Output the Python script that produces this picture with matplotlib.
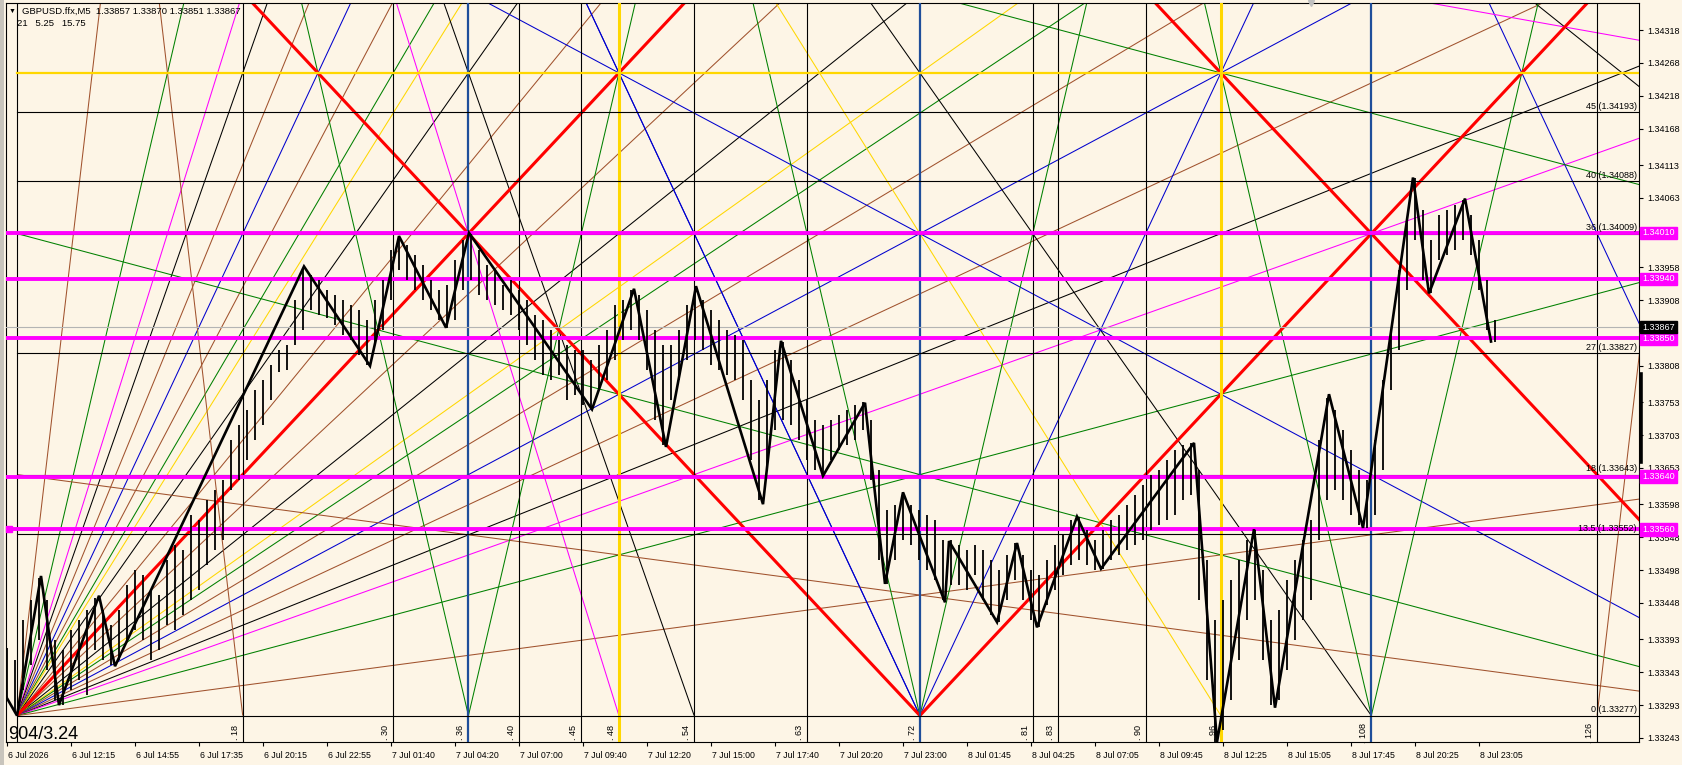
import numpy as np
import matplotlib
matplotlib.use("Agg")
import matplotlib.pyplot as plt
from matplotlib.patches import Rectangle

# ------------------------------------------------------------------ data
bar_index = list(range(0, 745, 4))
bar_high = [
    1.33380, 1.33361, 1.33422, 1.33453, 1.33486, 1.33453, 1.33392, 1.33377, 1.33407, 1.33422,
    1.33437, 1.33456, 1.33437, 1.33415, 1.33437, 1.33475, 1.33498, 1.33490, 1.33468, 1.33460,
    1.33513, 1.33536, 1.33528, 1.33582, 1.33574, 1.33604, 1.33620, 1.33635, 1.33695, 1.33718,
    1.33741, 1.33771, 1.33786, 1.33809, 1.33832, 1.33840, 1.33908, 1.33957, 1.33946, 1.33938,
    1.33923, 1.33916, 1.33908, 1.33900, 1.33893, 1.33878, 1.33908, 1.33938, 1.33984, 1.34004,
    1.33992, 1.33976, 1.33961, 1.33938, 1.33923, 1.33931, 1.33969, 1.33999, 1.34008, 1.33984,
    1.33961, 1.33954, 1.33931, 1.33938, 1.33923, 1.33908, 1.33885, 1.33878, 1.33862, 1.33847,
    1.33840, 1.33832, 1.33832, 1.33817, 1.33840, 1.33862, 1.33900, 1.33908, 1.33923, 1.33916,
    1.33893, 1.33862, 1.33840, 1.33840, 1.33862, 1.33900, 1.33928, 1.33908, 1.33893, 1.33878,
    1.33862, 1.33855, 1.33847, 1.33786, 1.33756, 1.33786, 1.33832, 1.33844, 1.33817, 1.33786,
    1.33756, 1.33726, 1.33718, 1.33726, 1.33733, 1.33741, 1.33749, 1.33753, 1.33726, 1.33650,
    1.33589, 1.33597, 1.33617, 1.33597, 1.33589, 1.33582, 1.33574, 1.33544, 1.33544, 1.33536,
    1.33528, 1.33536, 1.33528, 1.33513, 1.33498, 1.33521, 1.33539, 1.33521, 1.33498, 1.33490,
    1.33513, 1.33536, 1.33551, 1.33574, 1.33579, 1.33559, 1.33544, 1.33559, 1.33574, 1.33582,
    1.33597, 1.33612, 1.33627, 1.33642, 1.33650, 1.33665, 1.33680, 1.33688, 1.33691, 1.33650,
    1.33513, 1.33422, 1.33453, 1.33483, 1.33513, 1.33544, 1.33559, 1.33498, 1.33422, 1.33437,
    1.33483, 1.33513, 1.33544, 1.33574, 1.33695, 1.33759, 1.33741, 1.33711, 1.33680, 1.33650,
    1.33635, 1.33695, 1.33786, 1.33862, 1.33954, 1.34030, 1.34093, 1.34045, 1.33999, 1.34037,
    1.34045, 1.34052, 1.34060, 1.34037, 1.33999, 1.33938, 1.33878,
]
bar_low = [
    1.33305, 1.33282, 1.33316, 1.33354, 1.33392, 1.33346, 1.33301, 1.33293, 1.33316, 1.33331,
    1.33308, 1.33377, 1.33361, 1.33354, 1.33361, 1.33392, 1.33407, 1.33392, 1.33361, 1.33377,
    1.33415, 1.33407, 1.33430, 1.33453, 1.33468, 1.33506, 1.33528, 1.33544, 1.33620, 1.33635,
    1.33665, 1.33695, 1.33718, 1.33756, 1.33799, 1.33802, 1.33840, 1.33862, 1.33893, 1.33885,
    1.33881, 1.33870, 1.33855, 1.33847, 1.33825, 1.33809, 1.33840, 1.33862, 1.33908, 1.33954,
    1.33938, 1.33923, 1.33908, 1.33893, 1.33878, 1.33866, 1.33878, 1.33923, 1.33938, 1.33916,
    1.33908, 1.33900, 1.33893, 1.33885, 1.33862, 1.33840, 1.33817, 1.33794, 1.33786, 1.33794,
    1.33756, 1.33764, 1.33749, 1.33744, 1.33771, 1.33786, 1.33817, 1.33847, 1.33862, 1.33847,
    1.33802, 1.33726, 1.33688, 1.33756, 1.33786, 1.33817, 1.33847, 1.33832, 1.33809, 1.33802,
    1.33794, 1.33786, 1.33756, 1.33665, 1.33604, 1.33650, 1.33711, 1.33726, 1.33718, 1.33695,
    1.33665, 1.33650, 1.33641, 1.33665, 1.33680, 1.33688, 1.33695, 1.33711, 1.33635, 1.33513,
    1.33477, 1.33513, 1.33544, 1.33536, 1.33513, 1.33498, 1.33483, 1.33453, 1.33475, 1.33475,
    1.33468, 1.33490, 1.33453, 1.33430, 1.33419, 1.33453, 1.33483, 1.33453, 1.33422, 1.33412,
    1.33445, 1.33468, 1.33490, 1.33506, 1.33513, 1.33506, 1.33498, 1.33500, 1.33513, 1.33521,
    1.33528, 1.33536, 1.33544, 1.33559, 1.33566, 1.33574, 1.33582, 1.33604, 1.33612, 1.33453,
    1.33331, 1.33237, 1.33255, 1.33301, 1.33361, 1.33422, 1.33453, 1.33361, 1.33293, 1.33301,
    1.33346, 1.33392, 1.33422, 1.33453, 1.33544, 1.33604, 1.33620, 1.33604, 1.33582, 1.33566,
    1.33562, 1.33582, 1.33650, 1.33771, 1.33832, 1.33923, 1.33999, 1.33938, 1.33919, 1.33969,
    1.33976, 1.33984, 1.33999, 1.33976, 1.33923, 1.33862, 1.33844,
]
zz_bar = [-0.5, 5, 17, 26, 46, 54, 148.5, 181.5, 196, 219.5, 231, 292.5, 313.5, 329.5, 344.5,
          378, 387, 408, 429, 439, 448, 469, 471, 495, 505, 515, 535, 547, 593.5, 605,
          623.5, 634, 661, 678, 703, 711, 729, 742]
zz_price = [1.33306, 1.33277, 1.33489, 1.33293, 1.33459, 1.33352, 1.33959, 1.33808, 1.34005,
            1.33866, 1.34010, 1.33742, 1.33925, 1.33685, 1.33929, 1.33598, 1.33846, 1.33641,
            1.33752, 1.33477, 1.33616, 1.33449, 1.33542, 1.33419, 1.33539, 1.33411, 1.33579,
            1.33500, 1.33691, 1.33237, 1.33560, 1.33289, 1.33765, 1.33562, 1.34094, 1.33918,
            1.34062, 1.33845]

time_tick_bars = list(range(0, 737, 32))
time_labels = ["6 Jul 2026", "6 Jul 12:15", "6 Jul 14:55", "6 Jul 17:35", "6 Jul 20:15",
               "6 Jul 22:55", "7 Jul 01:40", "7 Jul 04:20", "7 Jul 07:00", "7 Jul 09:40",
               "7 Jul 12:20", "7 Jul 15:00", "7 Jul 17:40", "7 Jul 20:20", "7 Jul 23:00",
               "8 Jul 01:45", "8 Jul 04:25", "8 Jul 07:05", "8 Jul 09:45", "8 Jul 12:25",
               "8 Jul 15:05", "8 Jul 17:45", "8 Jul 20:25", "8 Jul 23:05"]
price_ticks = [1.34318, 1.34268, 1.34218, 1.34168, 1.34113, 1.34063, 1.33958, 1.33908,
               1.33808, 1.33753, 1.33703, 1.33653, 1.33598, 1.33548, 1.33498, 1.33448,
               1.33393, 1.33343, 1.33293, 1.33243]
sr_levels = [1.34010, 1.33940, 1.33850, 1.33640, 1.33560]
last_price = 1.33867
header_line1 = "GBPUSD.ffx,M5  1.33857 1.33870 1.33851 1.33867"
header_line2 = "21   5.25   15.75"
corner_text = "904/3.24"

# Gann square settings
gann_origin_bar = 5
gann_bars_per_unit = 6.27
gann_base_price = 1.33277
gann_price_unit = 0.0002033
gann_levels = ["0", "13.5", "18", "27", "36", "40", "45"]
gann_level_prices = [1.33277, 1.33552, 1.33643, 1.33827, 1.34009, 1.34088, 1.34193]
gann_verticals = [18, 30, 36, 40, 45, 48, 54, 63, 72, 81, 83, 90, 96, 108, 126]
yellow_level_units = 48

BROWN, GREEN, MAG, BLUE = "#A0522D", "#008000", "#FF00FF", "#0000CD"
BLACK, YEL, RED = "#000000", "#FFD700", "#FF0000"

fan_ratios = [8, 4, 3, 8/3, 16/7, 2, 16/9, 8/5, 3/2, 4/3, 8/7, 1,
              7/8, 3/4, 2/3, 5/8, 9/16, 1/2, 7/16, 3/8, 1/3, 1/4, 1/8]
fan_colors = [BROWN, GREEN, MAG, BLACK, BROWN, BLUE, BROWN, GREEN, YEL, BLACK, BROWN, RED,
              BROWN, BLACK, YEL, GREEN, BROWN, BLUE, BROWN, BLACK, MAG, GREEN, BROWN]
top_fan_ratios = [8, 4, 3, 8/3, 2, 3/2, 4/3, 1, 3/4]
top_fan_colors = [BROWN, GREEN, MAG, BLACK, BLUE, YEL, BLACK, RED, BLACK]
right_fan_ratios = [2, 1/2, 1/4, 1/8]
right_fan_colors = [BLUE, BLUE, GREEN, BROWN]

BG = "#FDF5E6"
FONT = ["Liberation Sans", "DejaVu Sans"]
plt.rcParams["font.family"] = FONT

# ------------------------------------------------------------------ figure
W, H = 1683, 765
fig = plt.figure(figsize=(W / 100, H / 100), dpi=100, facecolor=BG)
ax = fig.add_axes([6 / W, 23 / H, (1639 - 6) / W, (742 - 3) / H])
ax.set_facecolor(BG)
XMIN, XMAX = -0.5, 816
YMIN, YMAX = 1.332369, 1.343590
ax.set_xlim(XMIN, XMAX)
ax.set_ylim(YMIN, YMAX)


def gx(u):
    return gann_origin_bar + u * gann_bars_per_unit


def gy(v):
    return gann_base_price + v * gann_price_unit


def gline(u0, v0, u1, v1, color, lw=0.75, z=2):
    ax.plot([gx(u0), gx(u1)], [gy(v0), gy(v1)], color=color, lw=lw, zorder=z,
            solid_capstyle="butt")


def lw_for(c):
    return 2.2 if c == RED else 0.75


# fan from the origin
for r, c in zip(fan_ratios, fan_colors):
    gline(0, 0, 140, 140 * r, c, lw_for(c), 2.5 if c == RED else 2)
# fan from (0,144) downwards
for r, c in zip(top_fan_ratios, top_fan_colors):
    gline(0, 144, 144 / r, 0, c, lw_for(c), 2.5 if c == RED else 2)
# fan from (144,0) up-left
for r, c in zip(right_fan_ratios, right_fan_colors):
    gline(144, 0, 0, 144 * r, c)
# V at 72
for s, c in [(1, RED), (2, BLUE), (4, GREEN)]:
    gline(72, 0, 72 + 80 / s, 80, c, lw_for(c), 2.5 if c == RED else 2)
    gline(72, 0, 72 - 80 / s, 80, c, lw_for(c), 2.5 if c == RED else 2)
# green V's at 36 and 108, brown at 126
gline(36, 0, 56, 80, GREEN)
gline(108, 0, 128, 80, GREEN)
gline(108, 0, 88, 80, GREEN)
gline(126, 0, 136, 80, BROWN)
# lines from (0,72)
gline(0, 72, 288, 0, GREEN)
gline(0, 72, 432, 0, MAG)

# verticals
for u in [0] + gann_verticals:
    if u in (48, 96):
        col, lw = YEL, 2.2
    elif u in (36, 72, 108):
        col, lw = "#1F4E9A", 1.6
    else:
        col, lw = BLACK, 0.8
    ax.axvline(gx(u), color=col, lw=lw, zorder=2.6)
    if u:
        ax.text(gx(u) - 1.5, 1.33251, ". " + str(u), rotation=90, ha="right", va="center",
                fontsize=6.5, zorder=6)

# horizontal Gann levels
for lab, p in zip(gann_levels, gann_level_prices):
    ax.plot([gx(0), XMAX], [p, p], color=BLACK, lw=0.8, zorder=2.6)
    ax.text(XMAX - 1, p + 0.00002, f"{lab} ({p:.5f})", ha="right", va="bottom",
            fontsize=6.5, zorder=6)
ax.plot([gx(0), XMAX], [gy(yellow_level_units)] * 2, color=YEL, lw=1.6, zorder=2.6)

# support/resistance and last price
for p in sr_levels:
    ax.axhline(p, color=MAG, lw=2.8, zorder=3)
ax.axhline(last_price, color="#B4B4B4", lw=0.8, zorder=2.7)
ax.plot([1.0], [sr_levels[-1]], marker="s", ms=4, color=MAG, zorder=7, clip_on=False)
ax.plot([652], [YMAX], marker="v", ms=5, color="#C0C0C0", zorder=7, clip_on=False)

# price bars and zigzag
ax.vlines(bar_index, bar_low, bar_high, color=BLACK, lw=1.3, zorder=4)
ax.plot(zz_bar, zz_price, color=BLACK, lw=1.9, zorder=5, solid_joinstyle="miter")
ax.plot([XMAX + 0.8, XMAX + 0.8], [1.33796, 1.33662], color=BLACK, lw=2.6,
        clip_on=False, zorder=6)

# axes styling
for s in ax.spines.values():
    s.set_linewidth(0.8)
ax.yaxis.tick_right()
ax.set_yticks(price_ticks)
ax.set_yticklabels([f"{p:.5f}" for p in price_ticks], fontsize=6.5)
ax.tick_params(axis="y", length=3, pad=3, width=0.8)
ax.set_xticks(time_tick_bars)
ax.set_xticklabels([])
ax.tick_params(axis="x", length=3, width=0.8)
for b, lab in zip(time_tick_bars, time_labels):
    ax.text(b + 0.6, -0.012, lab, transform=ax.get_xaxis_transform(), ha="left",
            va="top", fontsize=6.3)

yt = ax.get_yaxis_transform()
for p in sr_levels:
    ax.text(1.002, p, f"{p:.5f}", transform=yt, color="white", fontsize=6.5,
            ha="left", va="center", clip_on=False, zorder=10,
            bbox=dict(boxstyle="square,pad=0.2", fc=MAG, ec=MAG))
ax.text(1.002, last_price, f"{last_price:.5f}", transform=yt, color="white", fontsize=6.5,
        ha="left", va="center", clip_on=False, zorder=10,
        bbox=dict(boxstyle="square,pad=0.2", fc=BLACK, ec=BLACK))

ax.text(0.5, 1.33249, corner_text, fontsize=13, ha="left", va="center", zorder=6)

# header
fig.text(9 / W, 1 - 11 / H, "\u25BC", fontsize=5, va="center")
fig.text(22 / W, 1 - 11 / H, header_line1, fontsize=6.8, va="center")
fig.text(17 / W, 1 - 24 / H, header_line2, fontsize=6.8, va="center")

fig.patches.append(Rectangle((0, 0), 4 / W, 1, transform=fig.transFigure,
                             fc="#C8C4BC", ec="none"))
fig.savefig("out.png", dpi=100, facecolor=BG)
